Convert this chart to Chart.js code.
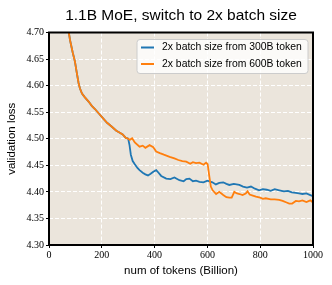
<!DOCTYPE html>
<html>
<head>
<meta charset="utf-8">
<script src="https://cdn.jsdelivr.net/npm/chart.js@4"></script>
<style>
  html, body { margin: 0; padding: 0; background: #fff; }
  #wrap { width: 332px; height: 285px; }
</style>
</head>
<body>
<div id="wrap"><canvas id="lossChart" width="332" height="285"></canvas></div>
<script>
'use strict'

//제목
const chartTitle = '1.1B MoE, switch to 2x batch size';
//x ticks (Billion tokens)
const xTicks = [0, 200, 400, 600, 800, 1000];
//y ticks
const yTicks = [4.30, 4.35, 4.40, 4.45, 4.50, 4.55, 4.60, 4.65, 4.70];

//series labels
const seriesNames = ['2x batch size from 300B token', '2x batch size from 600B token'];

//shared run up to 300B (both curves identical here)
const sharedTokens = [70, 80, 90, 98, 105, 112, 117, 125, 136, 150, 162, 174, 188, 204, 220, 237, 255, 270, 279, 290, 300];
const sharedLoss = [4.715, 4.685, 4.662, 4.646, 4.625, 4.605, 4.595, 4.585, 4.578, 4.570, 4.562, 4.556, 4.548, 4.539, 4.530, 4.523, 4.515, 4.511, 4.508, 4.502, 4.500];

//switch at 300B
const tokens300 = [305, 310, 317, 325, 335, 343, 355, 365, 375, 385, 395, 406, 415, 425, 444, 460, 475, 494, 510, 520, 532, 545, 557, 570, 585, 600, 619, 632, 645, 660, 672, 683, 700, 721, 735, 750, 765, 780, 796, 810, 825, 840, 855, 872, 890, 905, 920, 935, 947, 960, 975, 990, 1000];
const loss300 = [4.488, 4.470, 4.458, 4.452, 4.445, 4.441, 4.436, 4.433, 4.431, 4.434, 4.438, 4.441, 4.436, 4.430, 4.425, 4.424, 4.427, 4.422, 4.420, 4.424, 4.425, 4.420, 4.421, 4.419, 4.418, 4.421, 4.418, 4.414, 4.417, 4.418, 4.415, 4.413, 4.415, 4.413, 4.410, 4.408, 4.410, 4.406, 4.403, 4.405, 4.404, 4.402, 4.405, 4.403, 4.401, 4.402, 4.399, 4.398, 4.397, 4.396, 4.397, 4.394, 4.392];

//switch at 600B
const tokens600 = [306, 315, 325, 343, 355, 365, 381, 395, 406, 420, 435, 457, 475, 490, 505, 520, 535, 545, 557, 570, 585, 595, 601, 607, 613, 620, 633, 645, 660, 672, 683, 692, 702, 712, 722, 733, 745, 752, 760, 772, 784, 800, 810, 821, 840, 855, 872, 885, 900, 910, 921, 935, 947, 960, 975, 990, 1000];
const loss600 = [4.498, 4.501, 4.493, 4.485, 4.487, 4.483, 4.488, 4.484, 4.476, 4.473, 4.470, 4.466, 4.463, 4.460, 4.458, 4.457, 4.453, 4.456, 4.454, 4.455, 4.451, 4.455, 4.452, 4.430, 4.410, 4.403, 4.396, 4.400, 4.394, 4.390, 4.389, 4.389, 4.400, 4.397, 4.396, 4.394, 4.397, 4.401, 4.395, 4.393, 4.391, 4.389, 4.387, 4.388, 4.386, 4.386, 4.385, 4.383, 4.380, 4.378, 4.378, 4.383, 4.382, 4.384, 4.381, 4.384, 4.380];

const blueColor = '#1f77b4';
const orangeColor = '#ff7f0e';
const plotBg = '#ebe5dc';

function toPoints(xs, ys){
	let pts = [];
	xs.forEach((x, i) => {
		pts.push({x: x, y: ys[i]});
	});
	return pts;
}

const blueData = toPoints(sharedTokens.concat(tokens300), sharedLoss.concat(loss300));
const orangeData = toPoints(sharedTokens.concat(tokens600), sharedLoss.concat(loss600));

//플롯 배경 + 테두리 + 제목 (플롯 가운데 정렬)
const framePlugin = {
	id: 'frame',
	beforeDraw(chart){
		const a = chart.chartArea;
		const ctx = chart.ctx;
		ctx.save();
		ctx.fillStyle = plotBg;
		ctx.fillRect(a.left, a.top, a.right - a.left, a.bottom - a.top);
		ctx.restore();
	},
	afterDraw(chart){
		const a = chart.chartArea;
		const ctx = chart.ctx;
		ctx.save();
		ctx.strokeStyle = '#000';
		ctx.lineWidth = 2;
		ctx.strokeRect(a.left, a.top, a.right - a.left, a.bottom - a.top);
		ctx.fillStyle = '#000';
		ctx.font = '15.5px "Liberation Sans"';
		ctx.textAlign = 'center';
		ctx.textBaseline = 'middle';
		ctx.fillText(chartTitle, (a.left + a.right) / 2, 16);
		ctx.restore();
	}
};

//범례 (플롯 안쪽 오른쪽 위)
const legendPlugin = {
	id: 'innerLegend',
	afterDraw(chart){
		const a = chart.chartArea;
		const ctx = chart.ctx;
		const boxRight = a.right - 5;
		const boxTop = a.top + 7;
		const boxW = 171;
		const boxH = 34;
		const boxLeft = boxRight - boxW;
		ctx.save();
		ctx.beginPath();
		ctx.roundRect(boxLeft, boxTop, boxW, boxH, 3);
		ctx.fillStyle = 'rgba(255,255,255,0.8)';
		ctx.fill();
		ctx.strokeStyle = '#cccccc';
		ctx.lineWidth = 1;
		ctx.stroke();
		ctx.font = '10.4px "Liberation Sans"';
		ctx.textBaseline = 'middle';
		chart.data.datasets.forEach((ds, i) => {
			const y = boxTop + 8 + i * 16.5;
			ctx.beginPath();
			ctx.moveTo(boxLeft + 4, y);
			ctx.lineTo(boxLeft + 17, y);
			ctx.strokeStyle = ds.borderColor;
			ctx.lineWidth = 2;
			ctx.stroke();
			ctx.fillStyle = '#000';
			ctx.fillText(ds.label, boxLeft + 25, y);
		});
		ctx.restore();
	}
};

new Chart(document.getElementById('lossChart'), {
	type: 'line',
	data: {
		datasets: [{
			label: seriesNames[0],
			data: blueData,
			borderColor: blueColor,
			borderWidth: 1.8,
			pointRadius: 0,
			fill: false,
			order: 1
		}, {
			label: seriesNames[1],
			data: orangeData,
			borderColor: orangeColor,
			borderWidth: 1.8,
			pointRadius: 0,
			fill: false,
			order: 0
		}]
	},
	options: {
		responsive: false,
		animation: false,
		devicePixelRatio: 1,
		layout: { padding: { left: 0, right: 19, top: 32.5, bottom: 0 } },
		plugins: {
			legend: { display: false },
			tooltip: { enabled: false },
			title: { display: false }
		},
		scales: {
			x: {
				type: 'linear',
				min: 0,
				max: 1000,
				afterFit(scale){ scale.height = 40; },
				afterBuildTicks(scale){ scale.ticks = xTicks.map(v => ({value: v})); },
				ticks: {
					color: '#000',
					font: { family: '"Liberation Serif"', size: 10 },
					padding: 1,
					maxRotation: 0,
					callback: v => String(v)
				},
				grid: { color: '#ffffff', lineWidth: 1, tickLength: 3, tickColor: '#000' },
				border: { display: false, dash: [4, 2] },
				title: {
					display: true,
					text: 'num of tokens (Billion)',
					color: '#000',
					font: { family: '"Liberation Sans"', size: 11.5 },
					padding: { top: 2, bottom: 7 }
				}
			},
			y: {
				min: 4.30,
				max: 4.70,
				afterFit(scale){ scale.width = 49; },
				afterBuildTicks(scale){ scale.ticks = yTicks.map(v => ({value: v})); },
				ticks: {
					color: '#000',
					font: { family: '"Liberation Serif"', size: 10 },
					padding: 2,
					callback: v => v.toFixed(2)
				},
				grid: { color: '#ffffff', lineWidth: 1, tickLength: 3, tickColor: '#000' },
				border: { display: false, dash: [4, 2] },
				title: {
					display: true,
					text: 'validation loss',
					color: '#000',
					font: { family: '"Liberation Sans"', size: 11.5 },
					padding: { top: 5, bottom: 0 }
				}
			}
		}
	},
	plugins: [framePlugin, legendPlugin]
});
</script>
</body>
</html>
